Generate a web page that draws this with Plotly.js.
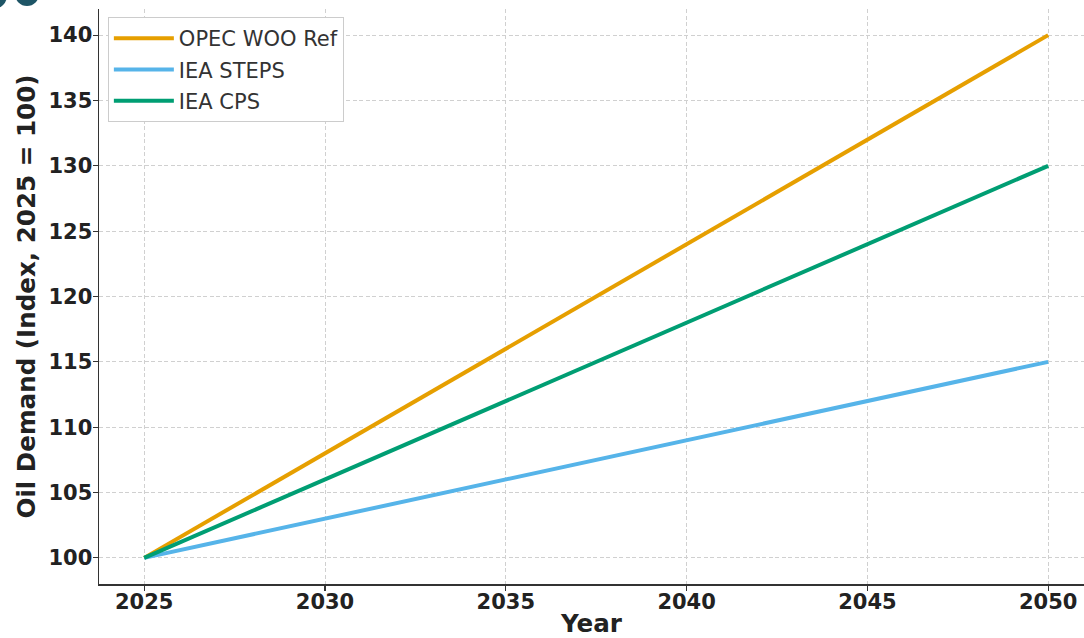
<!DOCTYPE html>
<html>
<head>
<meta charset="utf-8">
<script src="https://cdn.plot.ly/plotly-3.0.1.min.js"></script>
<style>html,body{margin:0;padding:0;background:#fff;}#chart{width:1084px;height:638px;}</style>
</head>
<body>
<div id="chart"></div>
<script>
const years = [2025, 2030, 2035, 2040, 2045, 2050];
const opecWooRef = [100, 108, 116, 124, 132, 140];
const ieaSteps = [100, 103, 106, 109, 112, 115];
const ieaCps = [100, 106, 112, 118, 124, 130];
const seriesNames = ['OPEC WOO Ref', 'IEA STEPS', 'IEA CPS'];
const xTicks = [2025, 2030, 2035, 2040, 2045, 2050];
const yTicks = [100, 105, 110, 115, 120, 125, 130, 135, 140];

const colors = ['#E69F00', '#56B4E9', '#009E73'];
const seriesData = [opecWooRef, ieaSteps, ieaCps];
const traces = seriesData.map((d, i) => ({
  x: years, y: d, name: seriesNames[i], type: 'scatter', mode: 'lines',
  legendgroup: 'g' + i,
  line: {color: colors[i], width: 4}
}));

const tickFont = {family: 'DejaVu Sans', size: 21, color: '#222', weight: 'bold'};
const titleFont = {family: 'DejaVu Sans', size: 24.6, color: '#222', weight: 'bold'};
const layout = {
  width: 1084, height: 638,
  margin: {l: 99, r: 0, t: 9, b: 54},
  paper_bgcolor: '#fff', plot_bgcolor: '#fff',
  showlegend: true,
  legend: {
    x: 0.009, y: 0.986, xanchor: 'left', yanchor: 'top',
    bgcolor: '#fff', bordercolor: '#cccccc', borderwidth: 1,
    font: {family: 'DejaVu Sans', size: 21, color: '#333'},
    itemwidth: 60, traceorder: 'grouped', tracegroupgap: 1
  },
  xaxis: {
    range: [2023.75, 2050.99], tickvals: xTicks, ticktext: xTicks.map(String),
    showline: true, linecolor: '#333', linewidth: 1.5,
    ticks: 'outside', ticklen: 5, tickcolor: '#333', tickwidth: 1.2,
    showgrid: true, gridcolor: '#d0d0d0', griddash: '4px,2.5px', gridwidth: 1,
    zeroline: false, tickfont: tickFont, ticklabelstandoff: -7,
    title: {text: 'Year', font: titleFont, standoff: 15}
  },
  yaxis: {
    range: [98, 142], tickvals: yTicks, ticktext: yTicks.map(String),
    showline: true, linecolor: '#333', linewidth: 1.5,
    ticks: 'outside', ticklen: 5, tickcolor: '#333', tickwidth: 1.2,
    showgrid: true, gridcolor: '#d0d0d0', griddash: '4px,2.5px', gridwidth: 1,
    zeroline: false, tickfont: tickFont, ticklabelstandoff: -4,
    title: {text: 'Oil Demand (Index, 2025 = 100)', font: titleFont, standoff: 6}
  },
  shapes: [
    {type: 'circle', xref: 'paper', yref: 'paper', x0: -0.1208, x1: -0.0934, y0: 1.0, y1: 1.047, fillcolor: '#1e5566', line: {width: 0}, layer: 'above'},
    {type: 'circle', xref: 'paper', yref: 'paper', x0: -0.0853, x1: -0.0609, y0: 1.0052, y1: 1.047, fillcolor: '#1e5566', line: {width: 0}, layer: 'above'}
  ]
};

Plotly.newPlot('chart', traces, layout, {displayModeBar: false, staticPlot: true});
</script>
</body>
</html>
